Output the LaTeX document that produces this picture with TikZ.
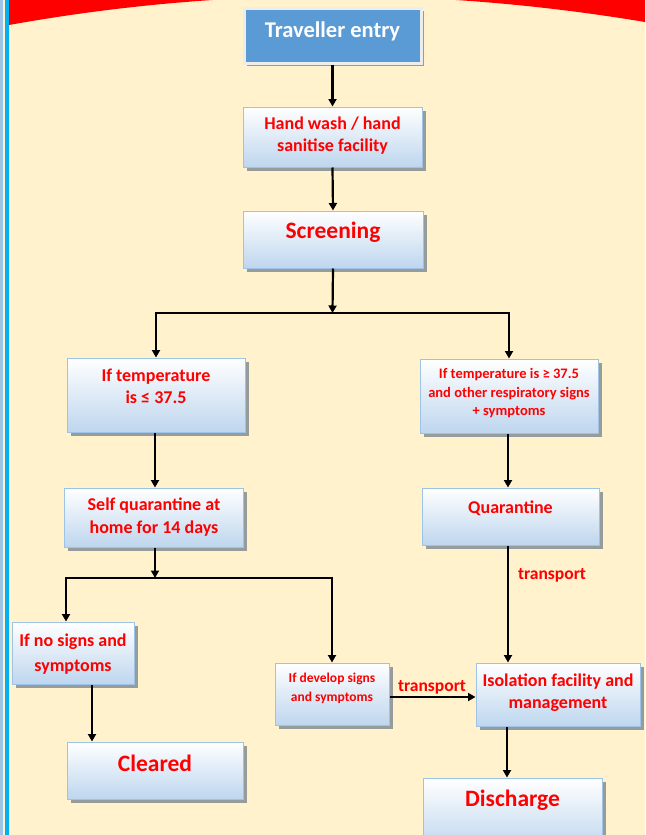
\documentclass[tikz,border=0pt]{standalone}
\usepackage{fontspec}
\setmainfont{Carlito}
\usetikzlibrary{arrows.meta,shadows}
\definecolor{cream}{RGB}{255,242,204}
\definecolor{redc}{RGB}{255,0,0}
\definecolor{stripeA}{RGB}{157,195,230}
\definecolor{stripeB}{RGB}{0,176,240}
\definecolor{bxborder}{RGB}{157,195,230}
\definecolor{bxbot}{RGB}{190,214,238}
\definecolor{shadowc}{RGB}{150,156,156}
\definecolor{travblue}{RGB}{91,155,213}
\definecolor{travborder}{RGB}{237,237,237}
\tikzset{
  bx/.style={draw=bxborder, line width=1pt, top color=white, bottom color=bxbot,
    inner sep=0pt, drop shadow={shadow xshift=3.5pt, shadow yshift=-3.5pt, fill=shadowc, opacity=1}},
  txt/.style={text=redc, font=\bfseries, align=center, inner sep=0pt},
  arr/.style={line width=2.2pt, -{Triangle[length=7.5pt,width=8pt]}},
  ln/.style={line width=2.2pt},
}
\begin{document}
\begin{tikzpicture}[x=1pt,y=-1pt]
\useasboundingbox (0,0) rectangle (645,835);
\begin{scope}
\clip (0,0) rectangle (645,835);
\fill[cream] (0,0) rectangle (645,835);
\fill[redc] (9,0) -- (9,25) .. controls (221.7,-13.2) and (433.7,-13.2) .. (645,22) -- (645,0) -- cycle;
\fill[stripeA] (0,0) rectangle (3,835);
\fill[stripeB] (5,0) rectangle (9,835);

% boxes
\node[draw=travborder, line width=3pt, fill=travblue, minimum width=177pt, minimum height=55pt,
  drop shadow={shadow xshift=3pt, shadow yshift=-3pt, fill=shadowc, opacity=1}] (trav) at (332.5,35.5) {};
\node[bx, minimum width=179pt, minimum height=60pt] (hand) at (332.5,137) {};
\node[bx, minimum width=180pt, minimum height=57pt] (scr) at (333,239.5) {};
\node[bx, minimum width=178pt, minimum height=74pt] (templ) at (156,395) {};
\node[bx, minimum width=178pt, minimum height=74pt] (tempr) at (509,396) {};
\node[bx, minimum width=179pt, minimum height=59pt] (selfq) at (154,517.5) {};
\node[bx, minimum width=177pt, minimum height=57pt] (quar) at (510.5,516.5) {};
\node[bx, minimum width=122pt, minimum height=62pt] (nos) at (73,653) {};
\node[bx, minimum width=176pt, minimum height=57pt] (clr) at (155,770.5) {};
\node[bx, minimum width=114pt, minimum height=62pt] (dev) at (332,694) {};
\node[bx, minimum width=164pt, minimum height=63pt] (iso) at (558,694.5) {};
\node[bx, minimum width=179pt, minimum height=72pt] (dis) at (512.5,814) {};

% texts
\node[txt, text=white, font=\bfseries\fontsize{22.5}{26}\selectfont] (ttrav) at (332.5,31) {Traveller entry};
\node[txt, font=\bfseries\fontsize{18}{22}\selectfont] (thand) at (332.5,136) {Hand wash / hand\\sanitise facility};
\node[txt, font=\bfseries\fontsize{23.5}{27}\selectfont] (tscr) at (333,232) {Screening};
\node[txt, font=\bfseries\fontsize{18}{22}\selectfont] (ttempl) at (156,386) {If temperature\\is ≤ 37.5};
\node[txt, font=\bfseries\fontsize{14.5}{18.5}\selectfont] (ttempr) at (509,393.5) {If temperature is ≥ 37.5\\and other respiratory signs\\+ symptoms};
\node[txt, font=\bfseries\fontsize{18}{23}\selectfont] (tselfq) at (154,517.5) {Self quarantine at\\home for 14 days};
\node[txt, font=\bfseries\fontsize{18}{22}\selectfont] (tquar) at (510.5,508) {Quarantine};
\node[txt, font=\bfseries\fontsize{18}{25}\selectfont] (tnos) at (73,654.5) {If no signs and\\symptoms};
\node[txt, font=\bfseries\fontsize{23.5}{27}\selectfont] (tclr) at (155,763) {Cleared};
\node[txt, font=\bfseries\fontsize{13.5}{19}\selectfont] (tdev) at (332,688) {If develop signs\\and symptoms};
\node[txt, font=\bfseries\fontsize{18}{21.5}\selectfont] (tiso) at (558,692.5) {Isolation facility and\\management};
\node[txt, font=\bfseries\fontsize{23.5}{27}\selectfont] (tdis) at (512.5,800) {Discharge};
\node[txt, font=\bfseries\fontsize{17.5}{21}\selectfont] (tr1) at (552,575) {transport};
\node[txt, font=\bfseries\fontsize{17.5}{21}\selectfont] (tr2) at (432,687) {transport};

% connectors
\coordinate (split1) at (332.5,313);
\coordinate (split2) at (155,578);
\draw[arr] (trav.south) -- (hand.north);
\draw[arr] (hand.south) -- (scr.north);
\draw[arr] (scr.south) -- (split1);
\draw[arr] (split1) -| (templ.north);
\draw[arr] (split1) -| (tempr.north);
\draw[arr] (templ.south -| split2) -- (selfq.north -| split2);
\draw[arr] (selfq.south -| split2) -- (split2);
\draw[arr] (split2) -| ([xshift=-7pt]nos.north);
\draw[arr] (split2) -| (dev.north);
\draw[arr] (tempr.south -| 508,0) -- (quar.north -| 508,0);
\draw[arr] (quar.south -| 508,0) -- (iso.north -| 508,0);
\draw[arr] ([yshift=-3pt]dev.east) -- ([yshift=-3pt]dev.east -| iso.west);
\draw[arr] (nos.south -| 92,0) -- (clr.north -| 92,0);
\draw[arr] (iso.south -| 507,0) -- (dis.north -| 507,0);
\end{scope}
\end{tikzpicture}
\end{document}
